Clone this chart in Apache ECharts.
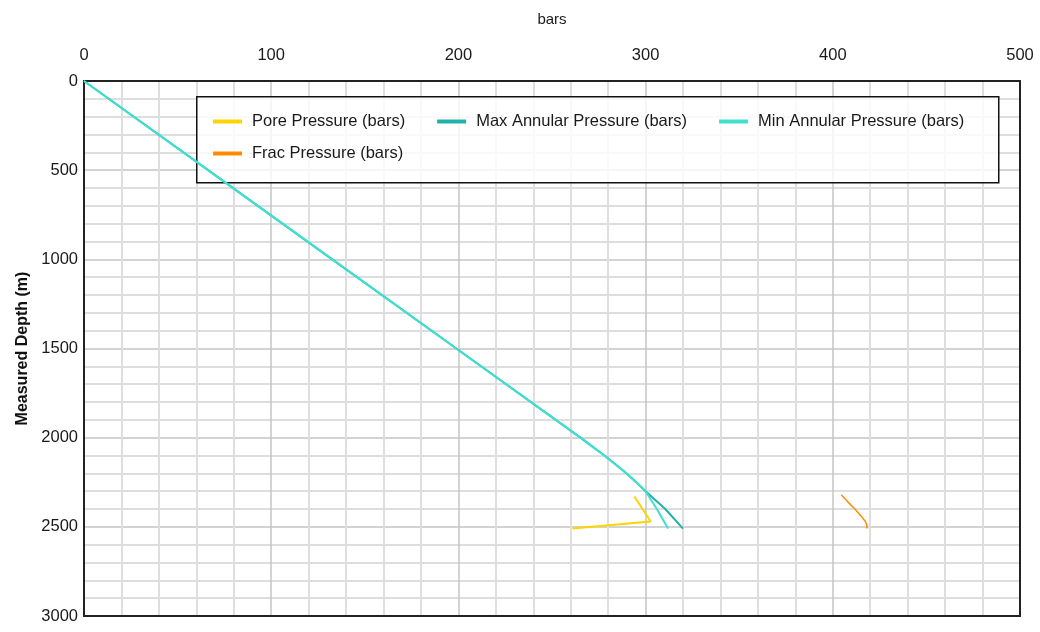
<!DOCTYPE html>
<html>
<head>
<meta charset="utf-8">
<script src="https://cdn.jsdelivr.net/npm/echarts@6/dist/echarts.min.js"></script>
<style>
html,body{margin:0;padding:0;background:#fff;}
#chart{width:1040px;height:632px;}
</style>
</head>
<body>
<div id="chart"></div>
<script>
// ---- data ----
const seriesNames = ['Pore Pressure (bars)', 'Max Annular Pressure (bars)', 'Min Annular Pressure (bars)', 'Frac Pressure (bars)'];

const annularDepth = [0, 500, 1000, 1500, 2000, 2050, 2100, 2150, 2200, 2250, 2300, 2400, 2510];
const maxAnnular   = [0, 66.3, 132.6, 198.9, 265.2, 271.6, 278, 284, 289.7, 295, 300, 310.5, 320];
const minAnnular   = [0, 66.3, 132.6, 198.9, 265.2, 271.6, 278, 284, 289.7, 295, 300, 306, 312];

const poreDepth    = [2330, 2470, 2510];
const porePressure = [294, 302.7, 261];

const fracDepth    = [2320, 2360, 2400, 2440, 2470, 2490, 2510];
const fracPressure = [404.5, 408, 411.8, 415.2, 417.4, 418.2, 418.2];

const xTicks = [0, 100, 200, 300, 400, 500];
const yTicks = [0, 500, 1000, 1500, 2000, 2500, 3000];

// ---- build ----
const pairs = (xs, ys) => xs.map((x, i) => [x, ys[i]]);
const font = "'Liberation Sans', Arial, sans-serif";
const colors = ['#FFD400', '#20B2AA', '#40E0D0', '#FF8C00'];

const chart = echarts.init(document.getElementById('chart'), null, {renderer: 'canvas'});
const legendText = {fontFamily: font, fontSize: 16.5, color: '#1a1a1a', padding: [0, 0, 0, 5]};
const xMin = xTicks[0], xMax = xTicks[xTicks.length - 1];
const yMin = yTicks[0], yMax = yTicks[yTicks.length - 1];
const frameLine = {show: true, onZero: false, lineStyle: {color: '#222', width: 2}};

chart.setOption({
  animation: false,
  color: colors,
  grid: {left: 84, right: 20, top: 81, bottom: 16, containLabel: false, outerBoundsMode: 'none',
         show: false},
  xAxis: [{
    type: 'value', position: 'top', min: xMin, max: xMax, interval: 100,
    name: 'bars', nameLocation: 'middle', nameGap: 54,
    nameTextStyle: {fontFamily: font, fontSize: 15, color: '#1a1a1a'},
    axisLine: frameLine, axisTick: {show: false},
    axisLabel: {margin: 17, fontFamily: font, fontSize: 16.5, color: '#1a1a1a', formatter: v => String(v)},
    splitLine: {show: true, lineStyle: {color: '#c4c4c4', width: 1.5}},
    minorTick: {show: false, splitNumber: 5},
    minorSplitLine: {show: true, lineStyle: {color: '#dedede', width: 2}}
  }, {
    type: 'value', position: 'bottom', min: xMin, max: xMax, interval: 100,
    axisLine: frameLine, axisTick: {show: false}, axisLabel: {show: false}, splitLine: {show: false}
  }],
  yAxis: [{
    type: 'value', inverse: true, min: yMin, max: yMax, interval: 500,
    name: 'Measured Depth (m)', nameLocation: 'middle', nameGap: 50, nameRotate: 90,
    nameTextStyle: {fontFamily: font, fontSize: 16, fontWeight: 'bold', color: '#111'},
    axisLine: frameLine, axisTick: {show: false},
    axisLabel: {margin: 6, fontFamily: font, fontSize: 16.5, color: '#1a1a1a', formatter: v => String(v)},
    splitLine: {show: true, lineStyle: {color: '#c4c4c4', width: 1.5}},
    minorTick: {show: false, splitNumber: 5},
    minorSplitLine: {show: true, lineStyle: {color: '#dedede', width: 2}}
  }, {
    type: 'value', position: 'right', inverse: true, min: yMin, max: yMax, interval: 500,
    axisLine: frameLine, axisTick: {show: false}, axisLabel: {show: false}, splitLine: {show: false}
  }],
  graphic: [{
    type: 'rect', left: 196, top: 96, z: 3,
    shape: {width: 802, height: 86},
    style: {fill: 'rgba(255,255,255,0.8)', stroke: '#111', lineWidth: 1.5}
  }],
  legend: [
    {data: seriesNames.slice(0, 3), left: 213, top: 113, width: 790, padding: 0, itemGap: 32, icon: 'rect',
     itemWidth: 29, itemHeight: 4, textStyle: legendText, z: 5},
    {data: seriesNames.slice(3), left: 213, top: 145, width: 300, padding: 0, icon: 'rect',
     itemWidth: 29, itemHeight: 4, textStyle: legendText, z: 5}
  ],
  series: [
    {name: seriesNames[0], type: 'line', data: pairs(porePressure, poreDepth), showSymbol: false, symbol: 'none',
     lineStyle: {width: 2, color: colors[0]}, itemStyle: {color: colors[0]}},
    {name: seriesNames[1], type: 'line', data: pairs(maxAnnular, annularDepth), showSymbol: false, symbol: 'none',
     lineStyle: {width: 2, color: colors[1]}, itemStyle: {color: colors[1]}},
    {name: seriesNames[2], type: 'line', data: pairs(minAnnular, annularDepth), showSymbol: false, symbol: 'none',
     lineStyle: {width: 2, color: colors[2]}, itemStyle: {color: colors[2]}},
    {name: seriesNames[3], type: 'line', data: pairs(fracPressure, fracDepth), showSymbol: false, symbol: 'none',
     lineStyle: {width: 1.5, color: colors[3]}, itemStyle: {color: colors[3]}}
  ]
});
</script>
</body>
</html>
